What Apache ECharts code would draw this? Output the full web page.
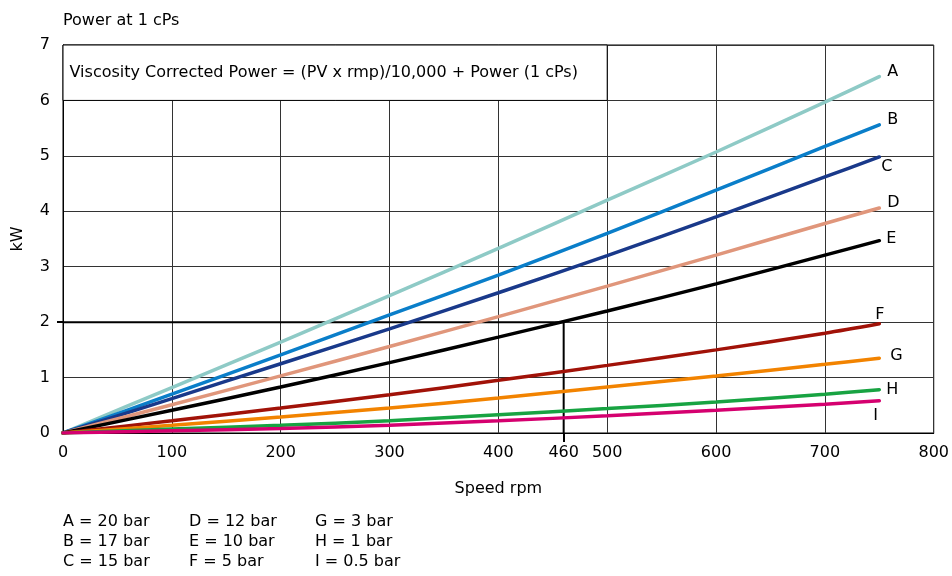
<!DOCTYPE html>
<html>
<head>
<meta charset="utf-8">
<script src="https://cdn.jsdelivr.net/npm/echarts@6/dist/echarts.min.js"></script>
<style>
  html, body { margin: 0; padding: 0; background: #fff; }
  #chart { width: 952px; height: 576px; }
</style>
</head>
<body>
<div id="chart"></div>
<script>
// speed (rpm) where the curves were read
var speeds = [0, 100, 200, 300, 400, 500, 600, 700, 750];

// power (kW) per pressure curve
var powerA = [0, 0.82, 1.64, 2.48, 3.33, 4.20, 5.07, 5.97, 6.43];
var powerB = [0, 0.70, 1.41, 2.13, 2.85, 3.60, 4.38, 5.17, 5.56];
var powerC = [0, 0.62, 1.25, 1.88, 2.53, 3.20, 3.90, 4.62, 4.98];
var powerD = [0, 0.51, 1.03, 1.56, 2.10, 2.65, 3.21, 3.78, 4.06];
var powerE = [0, 0.41, 0.83, 1.27, 1.73, 2.20, 2.69, 3.21, 3.47];
var powerF = [0, 0.22, 0.45, 0.69, 0.95, 1.22, 1.50, 1.80, 1.97];
var powerG = [0, 0.14, 0.29, 0.45, 0.63, 0.83, 1.03, 1.24, 1.35];
var powerH = [0, 0.07, 0.14, 0.22, 0.33, 0.44, 0.56, 0.70, 0.78];
var powerI = [0, 0.04, 0.08, 0.14, 0.22, 0.31, 0.41, 0.52, 0.58];

var curveNames = ['A', 'B', 'C', 'D', 'E', 'F', 'G', 'H', 'I'];
var curveValues = [powerA, powerB, powerC, powerD, powerE, powerF, powerG, powerH, powerI];

// worked example: 2 kW at 460 rpm
var exampleSpeed = [0, 460, 460];
var examplePower = [2, 2, 0];

var keyText = [
  ['A = 20 bar', 'B = 17 bar', 'C = 15 bar'],
  ['D = 12 bar', 'E = 10 bar', 'F = 5 bar'],
  ['G = 3 bar', 'H = 1 bar', 'I = 0.5 bar']
];

var colors = ['#8ecac6', '#0a7ec9', '#19398a', '#e0967b', '#000000', '#a11208', '#f28300', '#18a342', '#d5006f'];
var labelOffsets = [[0, -5], [0, -5], [-6, 10], [0, -5], [-1, -2], [-12, -9], [3, -2], [-1, 0], [-14, 15]];

var font = '"DejaVu Sans", "Liberation Sans", Arial, sans-serif';
var myChart = echarts.init(document.getElementById('chart'));

var series = curveNames.map(function (name, i) {
  return {
    name: name,
    type: 'line',
    data: speeds.map(function (s, j) { return [s, curveValues[i][j]]; }),
    smooth: 0.3,
    showSymbol: false,
    lineStyle: { color: colors[i], width: 3.5, cap: 'round' },
    itemStyle: { color: colors[i] },
    z: 3 + i * 0.01,
    endLabel: {
      show: true,
      formatter: name,
      color: '#000',
      fontFamily: font,
      fontSize: 16,
      offset: labelOffsets[i]
    }
  };
});

// white note box in the top band
series.push({
  type: 'line',
  data: [],
  markArea: {
    silent: true,
    itemStyle: { color: '#fff', borderColor: '#000', borderWidth: 1 },
    label: {
      show: true,
      position: 'insideLeft',
      distance: 7,
      color: '#000',
      fontFamily: font,
      fontSize: 16,
      formatter: 'Viscosity Corrected Power = (PV x rmp)/10,000 + Power (1 cPs)'
    },
    data: [[{ coord: [0, 7] }, { coord: [500, 6] }]]
  },
  z: 2
});

series.push({
  type: 'line',
  data: exampleSpeed.map(function (s, j) { return [s, examplePower[j]]; }),
  showSymbol: false,
  lineStyle: { color: '#000', width: 2 },
  z: 2.5
});

var graphics = [];
keyText.forEach(function (col, c) {
  col.forEach(function (t, r) {
    graphics.push({
      type: 'text',
      left: 63 + c * 126,
      top: 514 + r * 20,
      style: { text: t, fill: '#000', font: '16px ' + font }
    });
  });
});

var labelStyle = { fontFamily: font, fontSize: 16, color: '#000' };

myChart.setOption({
  animation: false,
  backgroundColor: '#fff',
  title: {
    text: 'Power at 1 cPs',
    left: 58,
    top: 8,
    textStyle: { fontFamily: font, fontSize: 16, fontWeight: 'normal', color: '#000' }
  },
  grid: { left: 63, right: 17, top: 45, bottom: 143, show: true, borderColor: '#000', borderWidth: 1 },
  xAxis: [{
    type: 'value',
    min: 0,
    max: 800,
    interval: 100,
    name: 'Speed rpm',
    nameLocation: 'middle',
    nameGap: 48,
    nameTextStyle: labelStyle,
    axisLine: { lineStyle: { color: '#000', width: 1 } },
    axisTick: { show: false },
    axisLabel: Object.assign({ margin: 12 }, labelStyle),
    splitLine: { show: true, lineStyle: { color: '#333', width: 1 } }
  }, {
    // extra axis: only the 460 rpm mark
    type: 'value',
    position: 'bottom',
    min: 0,
    max: 800,
    axisLine: { show: false },
    axisTick: { show: true, customValues: [460], length: 9, lineStyle: { color: '#000', width: 2 } },
    axisLabel: Object.assign({ customValues: [460], margin: 12 }, labelStyle),
    splitLine: { show: false }
  }],
  yAxis: [{
    type: 'value',
    min: 0,
    max: 7,
    interval: 1,
    name: 'kW',
    nameLocation: 'middle',
    nameGap: 37,
    nameRotate: 90,
    nameTextStyle: labelStyle,
    axisLine: { show: true, lineStyle: { color: '#000', width: 1 } },
    axisTick: { show: false },
    axisLabel: Object.assign({ margin: 13 }, labelStyle),
    splitLine: { show: true, lineStyle: { color: '#333', width: 1 } }
  }, {
    // extra axis: only the 2 kW mark
    type: 'value',
    position: 'left',
    min: 0,
    max: 7,
    axisLine: { show: false },
    axisTick: { show: true, customValues: [2], length: 6, lineStyle: { color: '#000', width: 2 } },
    axisLabel: { show: false },
    splitLine: { show: false }
  }],
  graphic: graphics,
  series: series
});
</script>
</body>
</html>
